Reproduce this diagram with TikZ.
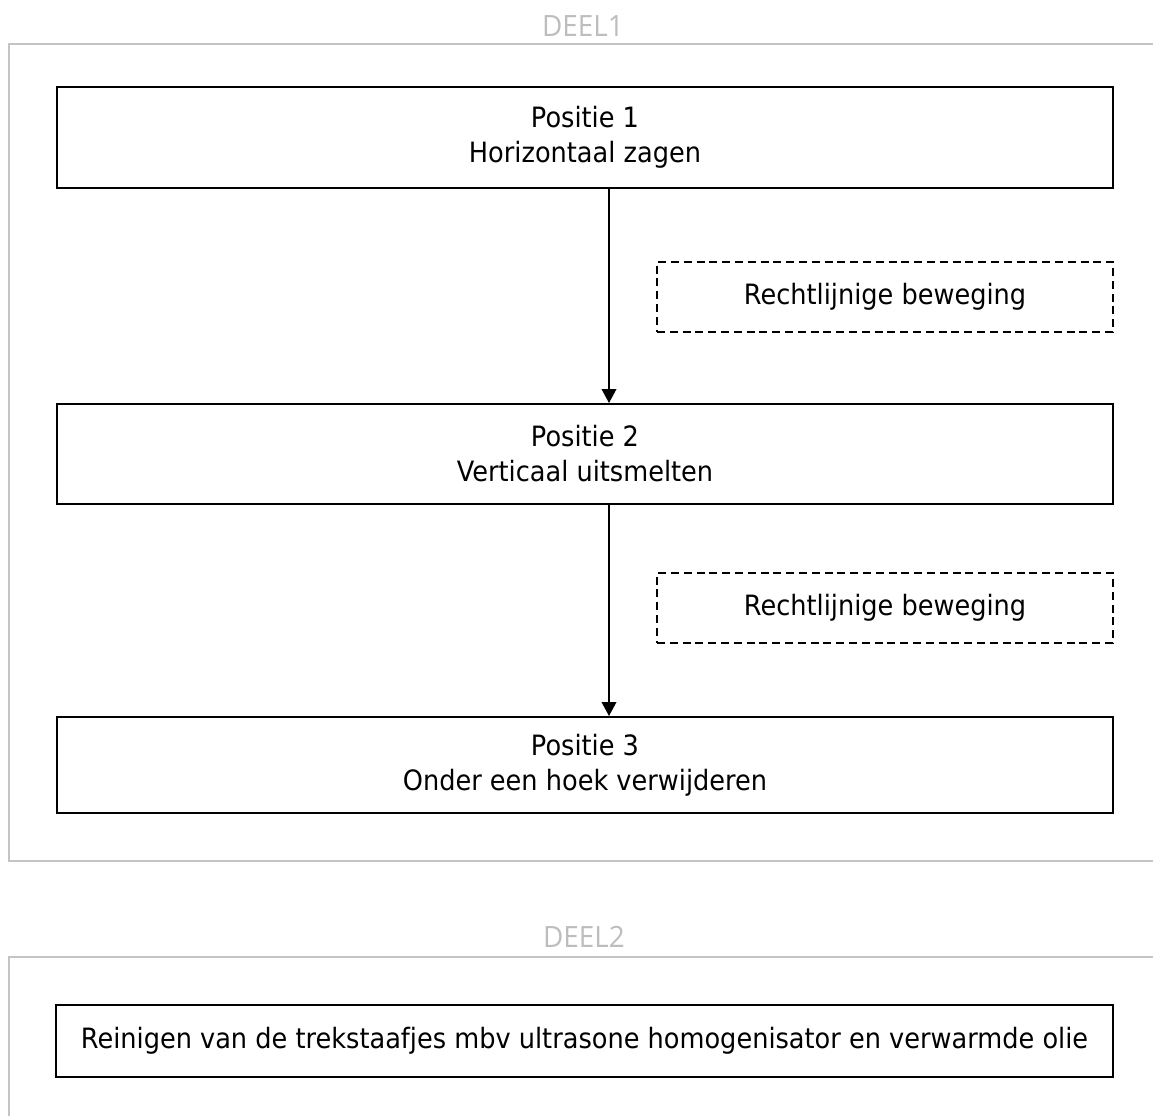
\documentclass[tikz,border=0pt]{standalone}
\usepackage{fontspec}
\setmainfont{DejaVu Sans}[FakeStretch=0.915]
\newfontfamily\deelfont{Open Sans}[FakeStretch=0.95]
\usetikzlibrary{arrows.meta}
\definecolor{clustergray}{HTML}{C4C4C4}
\definecolor{deelgray}{HTML}{BDBDBD}
\begin{document}
\begin{tikzpicture}[x=0.75pt,y=-0.75pt,
  mainbox/.style={draw=black,line width=1.5pt,fill=white,align=center,inner sep=0pt,
    font=\fontsize{21}{26.25}\selectfont,minimum width=792pt},
  motionbox/.style={draw=black,line width=1.2pt,dash pattern=on 6pt off 3.6pt,align=center,inner sep=0pt,
    font=\fontsize{21}{26.25}\selectfont,minimum width=342pt,minimum height=52.5pt},
  deellabel/.style={text=deelgray,font=\deelfont\fontsize{22}{24}\selectfont,anchor=base,inner sep=0pt},
  cluster/.style={draw=clustergray,line width=1.2pt},
  flow/.style={draw=black,line width=1.2pt,-{Triangle[length=10.5pt,width=11pt]}}
]
\useasboundingbox (0,0) rectangle (1153,1115);

% DEEL1
\node[deellabel] (deel1) at (583,36) {DEEL1};
\draw[cluster] (1153,44) -- (9,44) -- (9,861) -- (1153,861);

\node[mainbox,minimum height=75.75pt] (p1) at (585,137.5) {Positie 1\\Horizontaal zagen};
\node[mainbox,minimum height=75pt] (p2) at (585,454) {Positie 2\\Verticaal uitsmelten};
\node[mainbox,minimum height=72pt] (p3) at (585,765) {Positie 3\\Onder een hoek verwijderen};

\node[motionbox] (m1) at (885,297) {Rechtlijnige beweging};
\node[motionbox] (m2) at (885,608) {Rechtlijnige beweging};

\coordinate (ax) at (609,0);
\draw[flow] (p1.south -| ax) -- (p2.north -| ax);
\draw[flow] (p2.south -| ax) -- (p3.north -| ax);

% DEEL2
\node[deellabel] (deel2) at (584,947) {DEEL2};
\draw[cluster] (1153,957) -- (9,957) -- (9,1116);

\node[mainbox,minimum width=792.75pt,minimum height=54pt] (r) at (584.5,1041)
  {Reinigen van de trekstaafjes mbv ultrasone homogenisator en verwarmde olie};
\end{tikzpicture}
\end{document}
